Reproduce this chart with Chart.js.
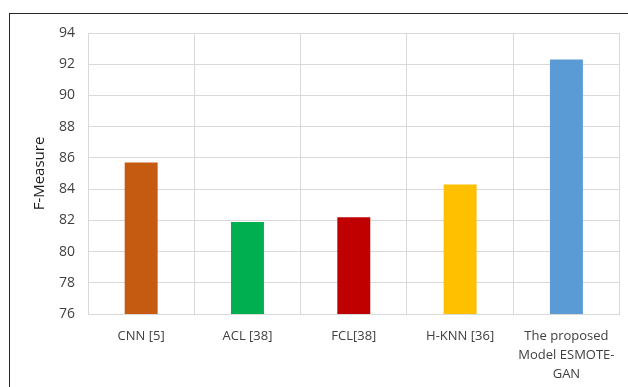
<!DOCTYPE html>
<html>
<head>
<meta charset="utf-8">
<script src="https://cdn.jsdelivr.net/npm/chart.js@4"></script>
<style>
  html, body { margin: 0; padding: 0; background: #fff; }
  #wrap { position: relative; width: 628px; height: 387px; overflow: hidden; }
  #frame { position: absolute; left: 9px; top: 13px; right: -2px; bottom: -2px;
           border-left: 1px solid #262626; border-top: 1px solid #262626; }
  canvas { position: absolute; left: 0; top: 0; }
</style>
</head>
<body>
<div id="wrap">
  <div id="frame"></div>
  <canvas id="chart" width="628" height="387"></canvas>
</div>
<script>
// categories and values
const categories = ['CNN [5]', 'ACL [38]', 'FCL[38]', 'H-KNN [36]', ['The proposed', 'Model ESMOTE-', 'GAN']];
const fMeasure = [85.7, 81.9, 82.2, 84.3, 92.3];
const barColors = ['#C55A11', '#00B050', '#C00000', '#FFC000', '#5B9BD5'];
const yMin = 76, yMax = 94, yStep = 2;

const ctx = document.getElementById('chart').getContext('2d');
new Chart(ctx, {
    type: 'bar',
    data: {
        labels: categories,
        datasets: [{
            data: fMeasure,
            backgroundColor: barColors,
            borderWidth: 0,
            categoryPercentage: 1,
            barPercentage: 0.31
        }]
    },
    options: {
        responsive: false,
        animation: false,
        layout: { padding: { top: 33, right: 5, left: 0, bottom: 0 } },
        plugins: { legend: { display: false }, tooltip: { enabled: false } },
        scales: {
            x: {
                grid: { color: '#D9D9D9', lineWidth: 1, drawTicks: false },
                border: { color: '#D9D9D9' },
                ticks: {
                    color: '#404040', padding: 13, maxRotation: 0, autoSkip: false,
                    font: { family: 'Open Sans', size: 13, lineHeight: 1.45 }
                },
                afterFit: (s) => { s.height = 387 - 314; }
            },
            y: {
                min: yMin, max: yMax,
                grid: { color: '#D9D9D9', lineWidth: 1, drawTicks: false },
                border: { color: '#D9D9D9' },
                ticks: {
                    stepSize: yStep, color: '#404040', padding: 13,
                    font: { family: 'Open Sans', size: 14 }
                },
                title: {
                    display: true, text: 'F-Measure', color: '#1a1a1a',
                    font: { family: 'Open Sans', size: 15 },
                    padding: { top: 31, bottom: 0 }
                },
                afterFit: (s) => { s.width = 88; }
            }
        }
    }
});
</script>
</body>
</html>
